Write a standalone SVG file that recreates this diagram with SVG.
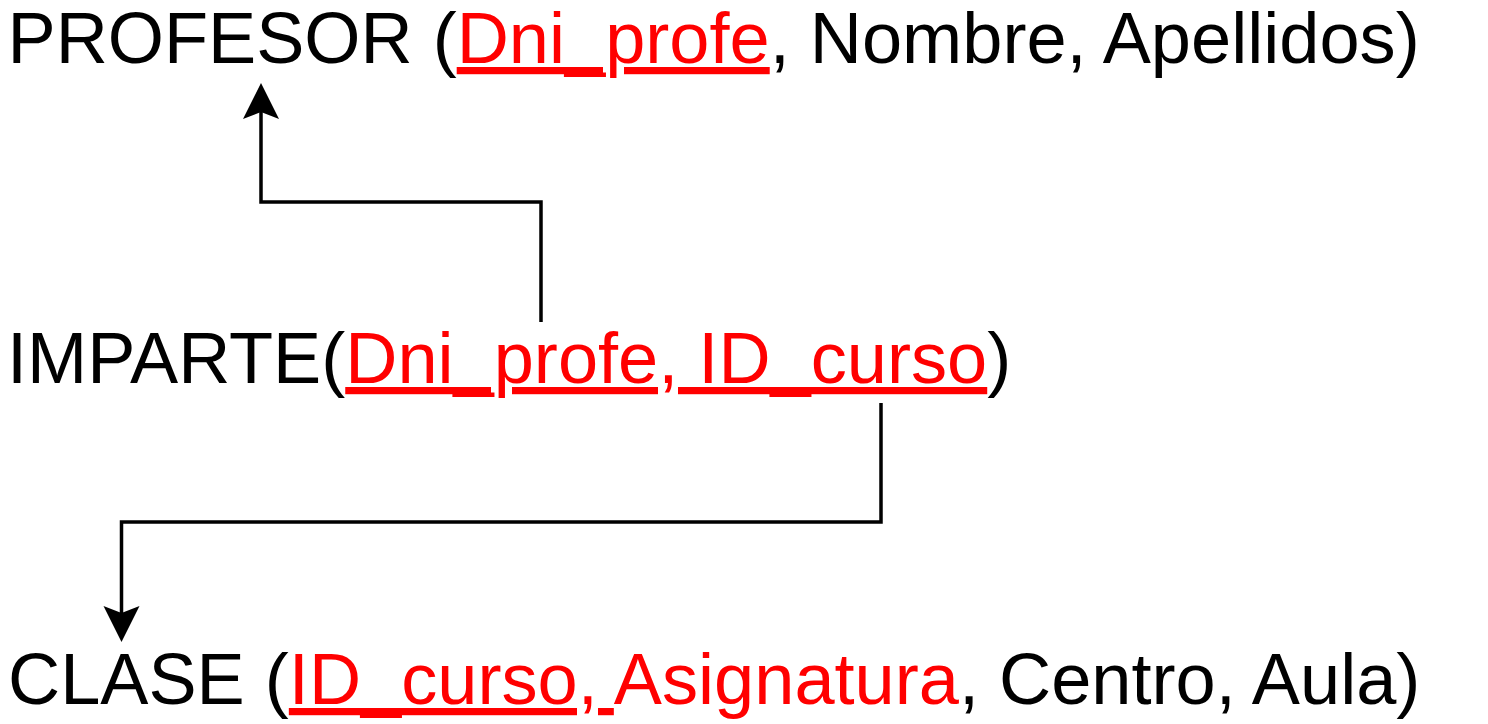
<svg xmlns="http://www.w3.org/2000/svg" width="1488" height="724" viewBox="0 0 1488 724">
<style>
text{font-family:"Liberation Sans",Arial,sans-serif;font-size:72.2px;fill:#000}
.k{fill:#ff0000}
.u{text-decoration:underline;text-decoration-thickness:3.5px;text-decoration-skip-ink:auto}
.c{fill:none;stroke:#000;stroke-width:3.5;stroke-linejoin:miter}
</style>
<defs>
<marker id="arr" markerUnits="userSpaceOnUse" markerWidth="40" markerHeight="40" viewBox="0 -20 40 40" refX="7" refY="0" orient="auto" overflow="visible">
<path d="M0,-18 L36,0 L0,18 L7,0 Z" fill="#000"/>
</marker>
</defs>
<rect width="1488" height="724" fill="#fff"/>
<g id="profesor"><text x="7.5" y="63">PROFESOR (<tspan class="k u">Dni_profe</tspan>, Nombre, Apellidos)</text></g>
<g id="imparte"><text x="7" y="383">IMPARTE(<tspan class="k u">Dni_profe, ID_curso</tspan>)</text></g>
<g id="clase"><text x="8" y="704">CLASE (<tspan class="k u">ID_curso, </tspan><tspan class="k">Asignatura</tspan>, Centro, Aula)</text></g>
<g id="connectors">
<path class="c" d="M541,322 V202 H261 V112" marker-end="url(#arr)"/>
<path class="c" d="M881,403 V522 H121.5 V613" marker-end="url(#arr)"/>
</g>
</svg>
